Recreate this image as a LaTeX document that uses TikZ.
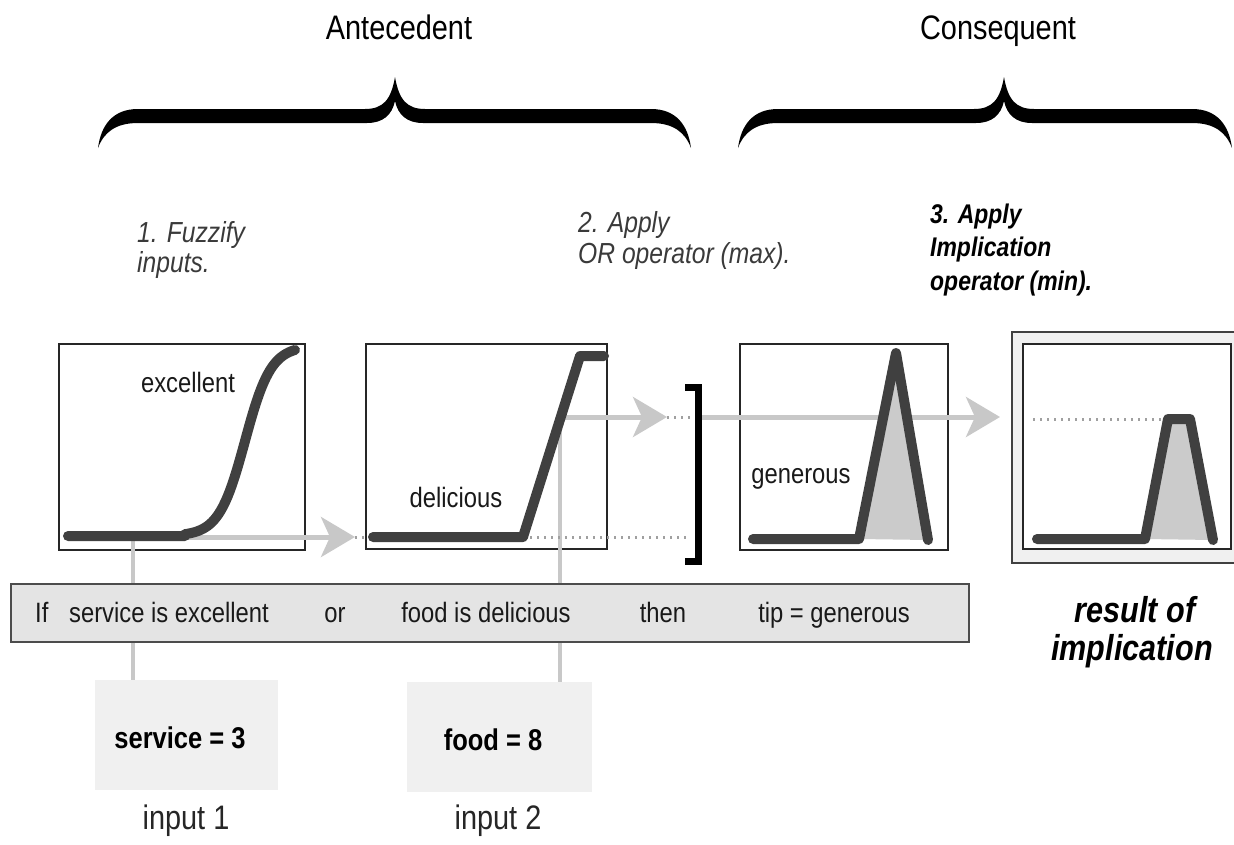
\documentclass[tikz,border=0pt]{standalone}
\usepackage{fontspec}
\setmainfont{Liberation Sans}[FakeStretch=0.85]
\usetikzlibrary{arrows.meta}

\definecolor{curvegray}{HTML}{404040}
\definecolor{flowgray}{HTML}{C8C8C8}
\definecolor{dotgray}{HTML}{A0A0A0}
\definecolor{barfill}{HTML}{E4E4E4}
\definecolor{inputfill}{HTML}{F0F0F0}
\definecolor{areafill}{HTML}{CBCBCB}
\definecolor{stagegray}{HTML}{3A3A3A}

% filled curly brace: left end, tip, right end
\newcommand\curlybrace[3]{%
  \fill (#1,148) .. controls (#1+3,125) and (#1+15,109) .. (#1+40,109)
    -- (#2-30,109) .. controls (#2-12,109) and (#2-4,100) .. (#2,77)
    .. controls (#2+4,100) and (#2+12,109) .. (#2+30,109)
    -- (#3-40,109) .. controls (#3-15,109) and (#3-3,125) .. (#3,148)
    .. controls (#3-6,132) and (#3-18,123) .. (#3-40,123)
    -- (#2+28,123) .. controls (#2+12,123) and (#2+3,115) .. (#2,101)
    .. controls (#2-3,115) and (#2-12,123) .. (#2-28,123)
    -- (#1+40,123) .. controls (#1+18,123) and (#1+6,132) .. (#1,148) -- cycle;}

\begin{document}
\begin{tikzpicture}[x=1pt,y=-1pt,
    mfbox/.style={draw=black!85,line width=1.5pt,inner sep=0},
    curve/.style={draw=curvegray,line width=10pt,line cap=round,line join=round},
    flow/.style={draw=flowgray,line width=5pt,-{Stealth[length=34pt,width=40pt,inset=9pt]}},
    link/.style={draw=flowgray,line width=4pt},
    dots/.style={draw=dotgray,line width=3pt,dash pattern=on 2pt off 5pt},
    head/.style={font=\fontsize{34}{40}\selectfont,anchor=base,inner sep=0},
    stage/.style={font=\fontsize{29}{32}\selectfont\itshape,text=stagegray,anchor=base west,inner sep=0},
    stagebold/.style={font=\fontsize{27}{32}\selectfont\bfseries\itshape,anchor=base west,inner sep=0},
    mflabel/.style={font=\fontsize{28}{32}\selectfont,text=black!90,anchor=base,inner sep=0},
    ruletext/.style={font=\fontsize{28}{32}\selectfont,text=black!90,anchor=base,inner sep=0},
    inbox/.style={fill=inputfill,inner sep=0},
    invalue/.style={font=\fontsize{30}{34}\selectfont\bfseries,anchor=base,inner sep=0},
    inlabel/.style={font=\fontsize{34}{40}\selectfont,text=black!85,anchor=base,inner sep=0},
    result/.style={font=\fontsize{36}{40}\selectfont\bfseries\itshape,anchor=base,inner sep=0}]

  \useasboundingbox (0,0) rectangle (1234,844);

  % braces and headings
  \node[head] (ante) at (399,39) {Antecedent};
  \node[head] (cons) at (998,39) {Consequent};
  \curlybrace{98}{395}{691}
  \curlybrace{738}{1004}{1232}

  % steps
  \node[stage] (s1a) at (137,242) {1. Fuzzify};
  \node[stage] (s1b) at (137,272) {inputs.};
  \node[stage] (s2a) at (578,232) {2. Apply};
  \node[stage] (s2b) at (578,263) {OR operator (max).};
  \node[stagebold] (s3a) at (930,223) {3. Apply};
  \node[stagebold] (s3b) at (930,256) {Implication};
  \node[stagebold] (s3c) at (930,290) {operator (min).};

  % membership function boxes
  \node[draw=black!75,line width=2pt,fill=inputfill,inner sep=0,
        minimum width=230,minimum height=231] (frame) at (1127,447.5) {};
  \node[mfbox,fill=white,minimum width=208,minimum height=205] (mf4) at (1127,446.5) {};
  \node[mfbox,minimum width=246,minimum height=206] (mf1) at (182,447) {};
  \node[mfbox,minimum width=241,minimum height=205] (mf2) at (486.5,446.5) {};
  \node[mfbox,minimum width=208,minimum height=206] (mf3) at (844,447) {};

  % degrees of membership
  \coordinate (exc) at (133,537);
  \coordinate (del) at (560,417);
  \coordinate (or1) at (355,537);
  \coordinate (or2) at (667,417);
  \coordinate (br1) at (695,417);
  \coordinate (br2) at (690,537);
  \coordinate (imp) at (1000,417);

  % input boxes
  \node[inbox,minimum width=183,minimum height=110] (in1) at (186.5,735) {};
  \node[inbox,minimum width=185,minimum height=110] (in2) at (499.5,737) {};

  \draw[link] (exc) -- (exc |- in1.north);
  \draw[link] (del) -- (del |- in2.north);
  \draw[dots] (or1) -- (br2);
  \draw[dots] (or2) -- (br1);
  \draw[dots] (1033,419) -- (1165,419);
  \draw[flow] (exc) -- (or1);
  \draw[flow] (del) -- (or2);
  \draw[flow] (br1) -- (imp);

  % curves
  \draw[curve] (68,536) -- (185,536)
    -- plot[domain=185:295,samples=50] (\x,{536-190/(1+exp(-(\x-245)/13))});
  \draw[curve] (373,537) -- (523,537) -- (580,356) -- (604,356);
  \fill[areafill] (859,539) -- (896,353) -- (928,540) -- cycle;
  \draw[curve] (753,539) -- (859,539) -- (896,353) -- (928,540);
  \fill[areafill] (1145,539) -- (1168,419) -- (1190,419) -- (1213,540) -- cycle;
  \draw[curve] (1037,539) -- (1145,539) -- (1168,419) -- (1190,419) -- (1213,540);

  \node[mflabel] (lexc) at (188,392) {excellent};
  \node[mflabel] (ldel) at (456,507) {delicious};
  \node[mflabel] (lgen) at (801,483) {generous};

  % bracket
  \draw[line width=7pt] (685,387) -- (698,387) -- (698,561) -- (685,561);

  % rule
  \node[draw=black!70,line width=2pt,fill=barfill,inner sep=0,
        minimum width=958,minimum height=58] (rule) at (490,612.5) {};
  \node[ruletext,anchor=base west] (rif) at (35,622) {If};
  \node[ruletext] (r1) at (169,622) {service is excellent};
  \node[ruletext] (r2) at (335,622) {or};
  \node[ruletext] (r3) at (486,622) {food is delicious};
  \node[ruletext] (r4) at (663,622) {then};
  \node[ruletext] (r5) at (834,622) {tip = generous};

  % inputs
  \node[invalue] (v1) at (180,748) {service = 3};
  \node[invalue] (v2) at (493,750) {food = 8};
  \node[inlabel] (i1) at (186,829) {input 1};
  \node[inlabel] (i2) at (498,829) {input 2};

  \node[result] (res1) at (1135,622) {result of};
  \node[result] (res2) at (1132,660) {implication};

\end{tikzpicture}
\end{document}
